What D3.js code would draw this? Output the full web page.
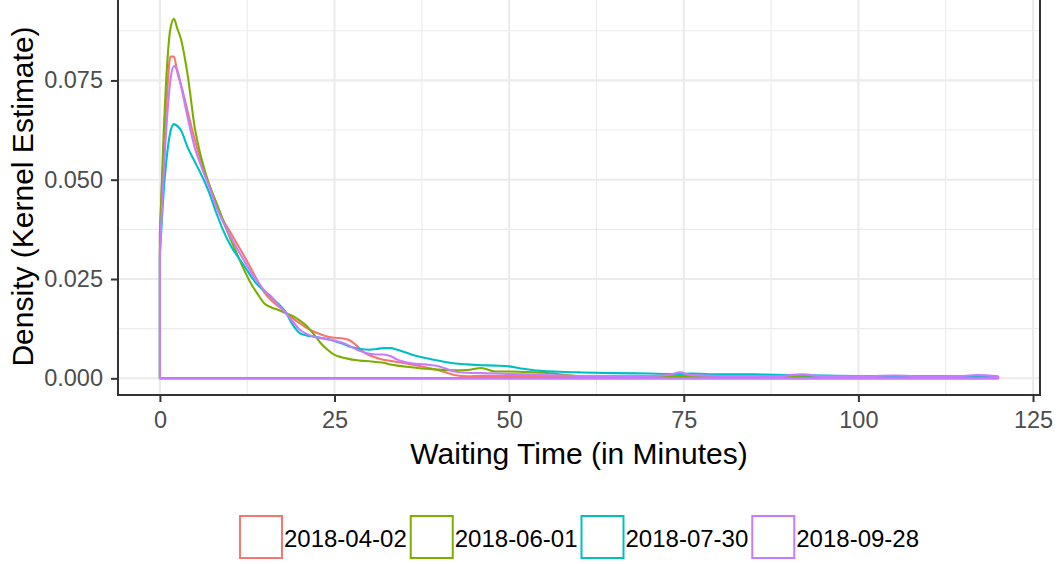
<!DOCTYPE html>
<html>
<head>
<meta charset="utf-8">
<script src="https://cdn.jsdelivr.net/npm/d3@7"></script>
<style>
  html, body { margin: 0; padding: 0; background: #ffffff; }
  svg { display: block; }
  text { font-family: "Liberation Sans", Arial, sans-serif; }
</style>
</head>
<body>
<svg id="chart" width="1060" height="564"></svg>
<script>
// ---- data ----
const seriesNames = ["2018-04-02", "2018-06-01", "2018-07-30", "2018-09-28"];
const seriesColors = ["#F8766D", "#7CAE00", "#00BFC4", "#C77CFF"];
const minutes = [0, 0.5, 1, 1.5, 2, 2.5, 3, 4, 5, 6, 7, 8, 9, 10, 11, 12, 13, 14, 15, 16, 17, 18, 19, 20,
  21, 22, 23, 24, 25, 26, 27, 28, 29, 30, 31, 32, 33, 34, 36, 38, 40, 42, 44, 46, 48, 50, 52, 55, 58, 60,
  65, 70, 73, 74.5, 76, 80, 85, 88, 92, 95, 100, 105, 110, 115, 117, 120];
const density20180402 = [0.037, 0.056, 0.071, 0.081, 0.081, 0.077, 0.074, 0.067, 0.060, 0.054, 0.049, 0.0445, 0.040, 0.037, 0.034, 0.031,
  0.0278, 0.0245, 0.0215, 0.0195, 0.0181, 0.0166, 0.0151, 0.0139, 0.0127, 0.0118, 0.0111, 0.0105, 0.0102, 0.0101, 0.0097, 0.0085,
  0.0068, 0.0058, 0.0052, 0.0047, 0.0044, 0.0041, 0.0035, 0.0028, 0.0020, 0.0009, 0.0005, 0.0006, 0.0006, 0.0006, 0.0006, 0.0005,
  0.0005, 0.0005, 0.0005, 0.0005, 0.0006, 0.0008, 0.0006, 0.0005, 0.0005, 0.0005, 0.0005, 0.0004, 0.0004, 0.0004, 0.0004, 0.0004,
  0.0004, 0.0003];
const density20180601 = [0.036, 0.060, 0.078, 0.088, 0.0905, 0.088, 0.0855, 0.076, 0.063, 0.055, 0.049, 0.0445, 0.040, 0.0355, 0.0315, 0.0275,
  0.024, 0.0212, 0.0188, 0.0178, 0.0172, 0.0164, 0.0157, 0.0146, 0.0132, 0.0112, 0.0089, 0.0072, 0.0059, 0.0053, 0.0049, 0.0046,
  0.0044, 0.0043, 0.0041, 0.0039, 0.0035, 0.0032, 0.0028, 0.0024, 0.0022, 0.0020, 0.0021, 0.0026, 0.0017, 0.0017, 0.0016, 0.0014,
  0.0009, 0.0006, 0.0005, 0.0005, 0.0005, 0.0005, 0.0005, 0.0005, 0.0004, 0.0004, 0.0004, 0.0004, 0.0004, 0.0004, 0.0003, 0.0003,
  0.0003, 0.0003];
const density20180730 = [0.031, 0.046, 0.056, 0.062, 0.064, 0.0635, 0.0625, 0.058, 0.0545, 0.051, 0.047, 0.042, 0.0375, 0.0338, 0.031, 0.0285,
  0.0258, 0.0235, 0.022, 0.0203, 0.0187, 0.0167, 0.0135, 0.0114, 0.0108, 0.0105, 0.0102, 0.0099, 0.0094, 0.0088, 0.0081, 0.0076,
  0.0073, 0.0072, 0.0074, 0.0076, 0.0076, 0.0072, 0.0060, 0.0051, 0.0044, 0.0038, 0.0035, 0.0033, 0.0032, 0.0030, 0.0024, 0.0018,
  0.0016, 0.0015, 0.0013, 0.0012, 0.0011, 0.0011, 0.0012, 0.0010, 0.0010, 0.0009, 0.0008, 0.0007, 0.0006, 0.0006, 0.0006, 0.0005,
  0.0005, 0.0004];
const density20180928 = [0.032, 0.050, 0.065, 0.075, 0.0786, 0.0775, 0.0738, 0.0655, 0.058, 0.053, 0.0485, 0.0435, 0.0395, 0.036, 0.0328, 0.0298,
  0.0268, 0.0243, 0.022, 0.0205, 0.0184, 0.0165, 0.0143, 0.0123, 0.0112, 0.0105, 0.0101, 0.0098, 0.0095, 0.0090, 0.0083, 0.0074,
  0.0067, 0.0062, 0.0060, 0.0060, 0.0056, 0.0047, 0.0038, 0.0035, 0.0030, 0.0018, 0.0014, 0.0013, 0.0012, 0.0011, 0.0010, 0.0008,
  0.0007, 0.0006, 0.0006, 0.0006, 0.0009, 0.0015, 0.0008, 0.0006, 0.0006, 0.0005, 0.0010, 0.0005, 0.0005, 0.0007, 0.0005, 0.0006,
  0.0008, 0.0005];
const seriesValues = [density20180402, density20180601, density20180730, density20180928];
const xTicks = [0, 25, 50, 75, 100, 125];
const xMinor = [12.5, 37.5, 62.5, 87.5, 112.5];
const yTicks = [0, 0.025, 0.05, 0.075];
const yMinor = [0.0125, 0.0375, 0.0625, 0.0875];
const xTitle = "Waiting Time (in Minutes)";
const yTitle = "Density (Kernel Estimate)";

// ---- layout ----
const panel = { left: 118, right: 1040, top: -2, bottom: 395 };
const svg = d3.select("#chart");
const x = d3.scaleLinear().domain([-6, 126]).range([panel.left, panel.right]);
const y = d3.scaleLinear().domain([-0.0042, 0.09575]).range([panel.bottom, panel.top]);

// panel background
svg.append("rect").attr("x", panel.left).attr("y", panel.top)
  .attr("width", panel.right - panel.left).attr("height", panel.bottom - panel.top)
  .attr("fill", "#ffffff");

const grid = svg.append("g");
grid.selectAll("line.xmin").data(xMinor).join("line")
  .attr("x1", d => x(d)).attr("x2", d => x(d)).attr("y1", panel.top).attr("y2", panel.bottom)
  .attr("stroke", "#EBEBEB").attr("stroke-width", 1.1);
grid.selectAll("line.ymin").data(yMinor).join("line")
  .attr("y1", d => y(d)).attr("y2", d => y(d)).attr("x1", panel.left).attr("x2", panel.right)
  .attr("stroke", "#EBEBEB").attr("stroke-width", 1.1);
grid.selectAll("line.xmaj").data(xTicks).join("line")
  .attr("x1", d => x(d)).attr("x2", d => x(d)).attr("y1", panel.top).attr("y2", panel.bottom)
  .attr("stroke", "#EBEBEB").attr("stroke-width", 2.1);
grid.selectAll("line.ymaj").data(yTicks).join("line")
  .attr("y1", d => y(d)).attr("y2", d => y(d)).attr("x1", panel.left).attr("x2", panel.right)
  .attr("stroke", "#EBEBEB").attr("stroke-width", 2.1);

// density outlines (closed polygons like ggplot geom_density)
const area = d3.area()
  .x(d => x(d.t))
  .y0(y(0))
  .y1(d => y(d.v))
  .curve(d3.curveMonotoneX);

svg.append("clipPath").attr("id", "pclip").append("rect")
  .attr("x", panel.left).attr("y", panel.top)
  .attr("width", panel.right - panel.left).attr("height", panel.bottom - panel.top);

const curves = svg.append("g").attr("clip-path", "url(#pclip)");
seriesValues.forEach((vals, i) => {
  const pts = minutes.map((t, j) => ({ t: t, v: vals[j] }));
  curves.append("path")
    .attr("d", area(pts))
    .attr("fill", "none")
    .attr("stroke", seriesColors[i])
    .attr("stroke-width", 2.1)
    .attr("stroke-linejoin", "round");
});

// panel border
svg.append("rect").attr("x", panel.left).attr("y", panel.top)
  .attr("width", panel.right - panel.left).attr("height", panel.bottom - panel.top)
  .attr("fill", "none").attr("stroke", "#333333").attr("stroke-width", 2);

// axes
const xAxis = svg.append("g").attr("transform", `translate(0,${panel.bottom})`)
  .call(d3.axisBottom(x).tickValues(xTicks).tickSize(7).tickPadding(4).tickFormat(d3.format("d")));
const yAxis = svg.append("g").attr("transform", `translate(${panel.left},0)`)
  .call(d3.axisLeft(y).tickValues(yTicks).tickSize(7).tickPadding(8).tickFormat(d3.format(".3f")));
[xAxis, yAxis].forEach(g => {
  g.select(".domain").remove();
  g.selectAll(".tick line").attr("stroke", "#333333").attr("stroke-width", 2);
  g.selectAll(".tick text").attr("fill", "#4D4D4D").style("font-size", "23.5px")
    .style("font-family", '"Liberation Sans", Arial, sans-serif');
});
xAxis.selectAll(".tick text").attr("dy", null).attr("y", 33);

// axis titles
svg.append("text").attr("x", (panel.left + panel.right) / 2).attr("y", 464)
  .attr("text-anchor", "middle").style("font-size", "30px").attr("fill", "#000000").text(xTitle);
svg.append("text").attr("transform", `translate(33,${(panel.top + panel.bottom) / 2}) rotate(-90)`)
  .attr("text-anchor", "middle").style("font-size", "30px").attr("fill", "#000000").text(yTitle);

// legend
const legend = svg.append("g");
const keySize = 44, keyGap = 1, itemGap = 3;
const items = seriesNames.map((name, i) => {
  const g = legend.append("g");
  g.append("rect").attr("x", 1).attr("y", 1).attr("width", keySize - 2).attr("height", keySize - 2)
    .attr("fill", "#ffffff").attr("stroke", seriesColors[i]).attr("stroke-width", 2);
  const t = g.append("text").attr("x", keySize + keyGap).attr("y", 32)
    .style("font-size", "24px").attr("fill", "#000000").text(name);
  return { g: g, w: keySize + keyGap + t.node().getComputedTextLength() };
});
const totalW = d3.sum(items, d => d.w) + itemGap * (items.length - 1);
let cx = (panel.left + panel.right) / 2 - totalW / 2;
items.forEach(it => {
  it.g.attr("transform", `translate(${cx},515)`);
  cx += it.w + itemGap;
});
</script>
</body>
</html>
